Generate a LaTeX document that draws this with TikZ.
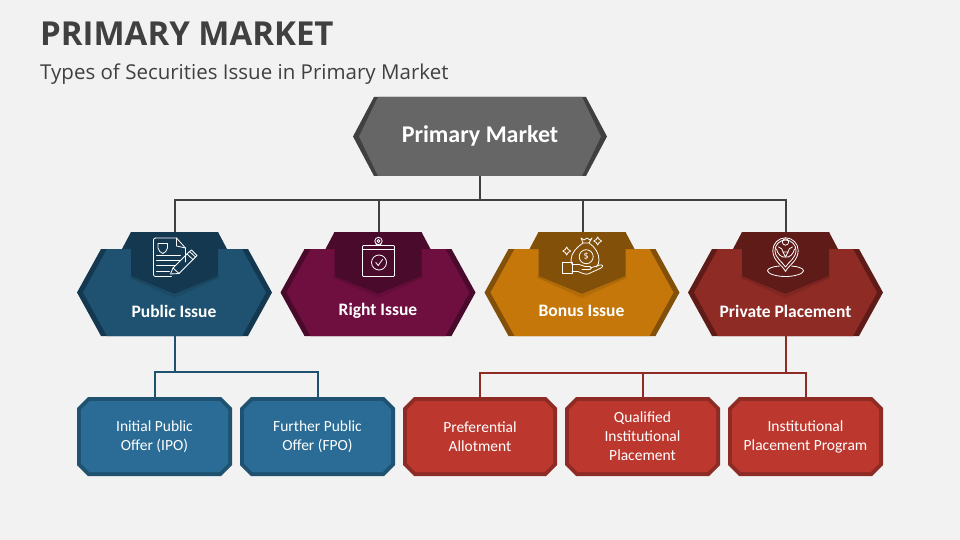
\documentclass[tikz,border=0pt]{standalone}
\usepackage{fontspec}
\setmainfont{Open Sans}
\newfontfamily\carfont{Carlito}
\definecolor{bg}{HTML}{F2F2F2}
\definecolor{ttl}{HTML}{404040}
\definecolor{greyF}{HTML}{666666}
\definecolor{greyD}{HTML}{404040}
\definecolor{pubF}{HTML}{1F5270}
\definecolor{pubD}{HTML}{14384F}
\definecolor{rigF}{HTML}{6F0F40}
\definecolor{rigD}{HTML}{4A0A2B}
\definecolor{bonF}{HTML}{C5770A}
\definecolor{bonD}{HTML}{83500A}
\definecolor{priF}{HTML}{8E2B25}
\definecolor{priD}{HTML}{5E1B17}
\definecolor{smbF}{HTML}{2A6C96}
\definecolor{smrF}{HTML}{BC382F}
\tikzset{
  x=1pt,y=-1pt,
  box/.style={minimum width=#1,inner sep=0pt,outer sep=0pt,text=white},
  hexlabel/.style={font=\carfont\bfseries\fontsize{17.5}{20}\selectfont,text=white,inner sep=0pt,anchor=center},
  smallbox/.style={inner sep=0pt,outer sep=0pt,minimum width=155pt,minimum height=79pt,align=center,text=white,font=\carfont\fontsize{15.5}{19}\selectfont},
  icon/.style={draw=white,line width=.8pt,line join=round,line cap=round},
  conn/.style={line width=2pt},
}
% #1 centre x, #2 fill, #3 dark
\newcommand{\hexshape}[3]{%
  \fill[#3] ({#1-97.5},292.5)--({#1-73.5},249)--({#1+73.5},249)--({#1+97.5},292.5)--({#1+73.5},336)--({#1-73.5},336)--cycle;
  \fill[#2] ({#1-91.5},292.5)--({#1-67.5},249)--({#1+67.5},249)--({#1+91.5},292.5)--({#1+67.5},336)--({#1-67.5},336)--cycle;
  \fill[#3] ({#1-52.5},249)--({#1-43.5},232)--({#1+43.5},232)--({#1+52.5},249)--cycle;
  \fill[black,opacity=.06] ({#1-45},276)--({#1},296.5)--({#1+45},276)--({#1+45},278)--({#1},298.5)--({#1-45},278)--cycle;
  \fill[black,opacity=.10] ({#1-44},276)--({#1},295)--({#1+44},276)--({#1+44},277.5)--({#1},296.5)--({#1-44},277.5)--cycle;
  \fill[#3] ({#1-43.5},232)--({#1+43.5},232)--({#1+43.5},276)--({#1},294)--({#1-43.5},276)--cycle;
}
% #1 x left, #2 x right, #3 fill, #4 border
\newcommand{\octshape}[4]{%
  \fill[#4] (#1+11,397)--(#2-11,397)--(#2,408)--(#2,465)--(#2-11,476)--(#1+11,476)--(#1,465)--(#1,408)--cycle;
  \fill[#3] (#1+12.5,401)--(#2-12.5,401)--(#2-4,409.5)--(#2-4,463.5)--(#2-12.5,472)--(#1+12.5,472)--(#1+4,463.5)--(#1+4,409.5)--cycle;
}
\begin{document}
\begin{tikzpicture}
\useasboundingbox (0,0) rectangle (960,540);
\fill[bg] (0,0) rectangle (960,540);
\node[anchor=base west,inner sep=0pt,text=ttl,font=\bfseries\fontsize{33}{36}\selectfont] (title) at (40,46) {PRIMARY MARKET};
\node[anchor=base west,inner sep=0pt,text=ttl,font=\fontsize{20.5}{24}\selectfont] (subtitle) at (40,80) {Types of Securities Issue in Primary Market};

% anchors for connectors
\node[box=254pt,minimum height=79pt] (top) at (480,136.5) {};
\node[box=87pt,minimum height=62pt] (tabA) at (174.5,263) {};
\node[box=87pt,minimum height=62pt] (tabB) at (378.5,263) {};
\node[box=87pt,minimum height=62pt] (tabC) at (582.5,263) {};
\node[box=87pt,minimum height=62pt] (tabD) at (786,263) {};
\node[box=195pt,minimum height=87pt] (hexA) at (174.5,292.5) {};
\node[box=195pt,minimum height=87pt] (hexD) at (786,292.5) {};
\coordinate (busT) at (480,200);
\coordinate (busA) at (174.5,371.5);
\coordinate (busD) at (786,372.5);

% shapes
\fill[greyD] (353,136.5)--(374,97)--(586,97)--(607,136.5)--(586,176)--(374,176)--cycle;
\fill[greyF] (359,136.5)--(378,97)--(582,97)--(601,136.5)--(582,176)--(378,176)--cycle;

% top connectors
\draw[conn,greyD] (top.south) -- (busT);
\draw[conn,greyD] (tabA.north) |- (busT);
\draw[conn,greyD] (tabB.north) |- (busT);
\draw[conn,greyD] (tabC.north) |- (busT);
\draw[conn,greyD] (tabD.north) |- (busT);

\hexshape{174.5}{pubF}{pubD}
\hexshape{378}{rigF}{rigD}
\hexshape{582}{bonF}{bonD}
\hexshape{785.5}{priF}{priD}

\octshape{77}{232}{smbF}{pubF}
\octshape{240}{395}{smbF}{pubF}
\octshape{403}{557}{smrF}{priF}
\octshape{565}{720}{smrF}{priF}
\octshape{728}{883}{smrF}{priF}

\node[smallbox] (ipo) at (154.5,436.5) {Initial Public\\Offer (IPO)};
\node[smallbox] (fpo) at (317.5,436.5) {Further Public\\Offer (FPO)};
\node[smallbox,minimum width=154pt] (pref) at (480,436.5) {Preferential\\Allotment};
\node[smallbox] (qual) at (642.5,436.5) {Qualified\\Institutional\\Placement};
\node[smallbox] (inst) at (805.5,436.5) {Institutional\\Placement Program};

% lower connectors
\draw[conn,pubF] (hexA.south) -- (busA);
\draw[conn,pubF] (ipo.north) |- (busA);
\draw[conn,pubF] (fpo.north) |- (busA);
\draw[conn,priF] (hexD.south) -- (busD);
\draw[conn,priF] (pref.north) |- (busD);
\draw[conn,priF] (qual.north) -- (qual.north |- busD);
\draw[conn,priF] (inst.north) |- (busD);

% labels
\node[hexlabel,font=\carfont\bfseries\fontsize{24}{28}\selectfont] (lTop) at (480,136) {Primary Market};
\node[hexlabel] (lA) at (174,311) {Public Issue};
\node[hexlabel] (lB) at (378,311) {Right Issue};
\node[hexlabel] (lC) at (581.5,311) {Bonus Issue};
\node[hexlabel] (lD) at (785.5,311) {Private Placement};

% icon: document and pen
\begin{scope}[shift={(174.5,0)},icon]
  \draw (-19,238)--(2,238)--(11,248)--(11,262);
  \draw (-19,238) arc (270:180:2) --(-21,274.5) arc (180:90:2)--(-3,276.5);
  \draw (2,238)--(2,246)--(11,248);
  \draw (-16.5,243.5)--(-7,243.5)--(-7,248) .. controls (-7,251) and (-10,252.5) .. (-11.7,253.5) .. controls (-13.5,252.5) and (-16.5,251) .. (-16.5,248)--cycle;
  \draw (-18,255)--(6,255);
  \draw (-18,260)--(6,260);
  \draw (-18,265)--(1,265);
  \draw (-18,271)--(-5,271);
  \draw (-4,274)--(-1.5,268)--(15,251.5)--(21,257)--(4.5,273.5)--cycle;
  \draw (12.5,254)--(18.5,259.5);
  \draw (-1.5,268)--(4.5,273.5);
  \draw (15,251.5)--(17,250)--(22.5,255.5)--(21,257);
\end{scope}
% icon: calendar
\begin{scope}[shift={(378,0)},icon]
  \draw[rounded corners=1pt] (-15.5,245.5) rectangle (16.5,276.5);
  \draw (-15.5,249.5)--(16.5,249.5);
  \draw (.5,241) circle (3.7);
  \draw (.5,241) circle (1.5);
  \draw (-3,245.5) .. controls (-1,245.5) and (-1,244) .. (-1.5,243.8);
  \draw (4,245.5) .. controls (2,245.5) and (2,244) .. (2.5,243.8);
  \draw (1,262.5) circle (7.5);
  \draw (-2.2,262.5)--(.2,265.5)--(4.5,259.5);
\end{scope}
% icon: money bag and hand
\begin{scope}[shift={(582,0)},icon]
  \draw (-1,238)--(2,240)--(5,238)--(8,240)--(10,238)--(7,243)--(1,243)--cycle;
  \draw (1,243) .. controls (-5,247) and (-11,253) .. (-11,260) .. controls (-11,262) and (-10.5,263) .. (-10,264);
  \draw (7,243) .. controls (13,247) and (17,253) .. (17,260) .. controls (17,263) and (16,265) .. (14.5,267);
  \draw (4.2,256.7) circle (7);
  \node[inner sep=0pt,text=white,font=\fontsize{9}{9}\selectfont] (dollar) at (4.2,256.7) {\$};
  \draw (-20,262.5) rectangle (-10,273);
  \draw (-10,264.5)--(-3,264.5) .. controls (0,264.5) and (1,266.5) .. (3,266.5)--(8,266.5) .. controls (10,266.5) and (10,269.5) .. (7,269.5)--(0,269.5);
  \draw (8,268)--(18,265) .. controls (21,264.5) and (21.5,266.5) .. (19,268)--(6,274) .. controls (3,275) and (-1,272.5) .. (-4,271.5)--(-10,271.5);
  \draw (-15.3,247)--(-13.8,249.5)--(-11.3,251)--(-13.8,252.5)--(-15.3,255)--(-16.8,252.5)--(-19.3,251)--(-16.8,249.5)--cycle;
  \draw (15.7,237)--(17.2,239.5)--(19.7,241)--(17.2,242.5)--(15.7,245)--(14.2,242.5)--(11.7,241)--(14.2,239.5)--cycle;
\end{scope}
% icon: location pin
\begin{scope}[shift={(785.5,0)},icon]
  \draw (0,271.5) .. controls (-3,265) and (-12.7,261) .. (-12.7,250.5) arc (180:360:12.7) .. controls (12.7,261) and (3,265) .. (0,271.5);
  \draw (0,267) .. controls (-3,262) and (-10.5,258) .. (-10.5,250.5) arc (180:360:10.5) .. controls (10.5,258) and (3,262) .. (0,267);
  \draw (0,242) circle (3.2);
  \draw (-9,249) .. controls (-8,254) and (-4,258) .. (0,257) .. controls (4,258) and (8,254) .. (9,249);
  \draw (-7,247) .. controls (-4,248) and (-3,249) .. (-2.5,252);
  \draw (7,247) .. controls (4,248) and (3,249) .. (2.5,252);
  \draw (-2.5,252)--(0,257)--(2.5,252)--cycle;
  \draw (-6,266) .. controls (-13,266.5) and (-18,268.5) .. (-18,270.7) .. controls (-18,273.5) and (-10,276.5) .. (0,276.5) .. controls (10,276.5) and (18,273.5) .. (18,270.7) .. controls (18,268.5) and (13,266.5) .. (6,266);
\end{scope}
\end{tikzpicture}
\end{document}
